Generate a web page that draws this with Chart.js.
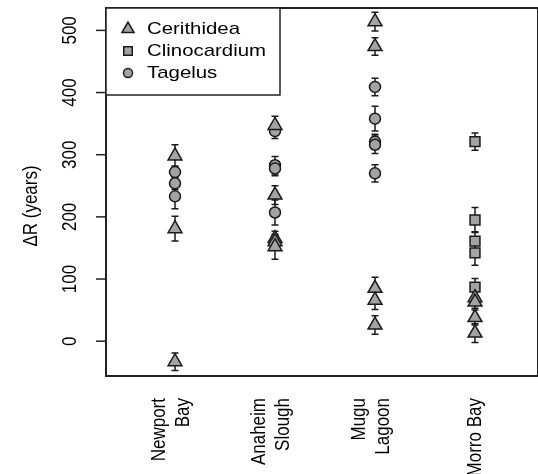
<!DOCTYPE html>
<html>
<head>
<meta charset="utf-8">
<script src="https://cdn.jsdelivr.net/npm/chart.js@4"></script>
<style>
  html, body { margin: 0; padding: 0; background: #fff; }
  #wrap { width: 538px; height: 474px; }
</style>
</head>
<body>
<div id="wrap"><canvas id="chart" width="538" height="474"></canvas></div>
<script>
    // sites along the x axis (1..4)
    const siteLabels = [['Newport', 'Bay'], ['Anaheim', 'Slough'], ['Mugu', 'Lagoon'], ['Morro Bay']];
    const yTicks = [0, 100, 200, 300, 400, 500];

    // Cerithidea
    const cerSite  = [1, 1, 1, 2, 2, 2, 2, 2, 3, 3, 3, 3, 3, 4, 4, 4, 4];
    const cerValue = [298, 181, -33, 347, 235, 165, 160, 152, 514, 474, 85, 66, 26, 70, 63, 38, 13];
    const cerError = [18, 20, 14, 15, 15, 12, 10, 20, 15, 14, 18, 15, 15, 12, 10, 12, 15];

    // Clinocardium
    const cliSite  = [4, 4, 4, 4, 4];
    const cliValue = [321, 195, 161, 142, 87];
    const cliError = [14, 20, 15, 20, 14];

    // Tagelus
    const tagSite  = [1, 1, 1, 2, 2, 2, 2, 3, 3, 3, 3, 3];
    const tagValue = [272, 254, 233, 338, 283, 278, 207, 409, 358, 321, 316, 270];
    const tagError = [10, 10, 20, 12, 14, 12, 20, 14, 20, 12, 14, 14];

    const FILL = '#a3a3a3';
    const EDGE = '#1a1a1a';
    const FONT = '"Liberation Sans", Arial, sans-serif';
    const STRETCH = 1.2;

    function points(xs, ys) {
      return xs.map((x, i) => ({ x, y: ys[i] }));
    }

    const series = [
      { label: 'Cerithidea', style: 'triangle', r: 8, legendR: 7, data: points(cerSite, cerValue), err: cerError },
      { label: 'Clinocardium', style: 'rect', r: 7, legendR: 6, data: points(cliSite, cliValue), err: cliError },
      { label: 'Tagelus', style: 'circle', r: 5.5, legendR: 4.5, data: points(tagSite, tagValue), err: tagError }
    ];

    // error bars, frame, ticks, labels and legend
    const decorations = {
      id: 'decorations',
      beforeDatasetsDraw(chart) {
        const ctx = chart.ctx;
        const xs = chart.scales.x, ys = chart.scales.y;
        ctx.save();
        ctx.strokeStyle = EDGE;
        ctx.lineWidth = 1.5;
        series.forEach(s => {
          s.data.forEach((p, i) => {
            const px = xs.getPixelForValue(p.x);
            const top = ys.getPixelForValue(p.y + s.err[i]);
            const bot = ys.getPixelForValue(p.y - s.err[i]);
            ctx.beginPath();
            ctx.moveTo(px, top); ctx.lineTo(px, bot);
            ctx.moveTo(px - 3.5, top); ctx.lineTo(px + 3.5, top);
            ctx.moveTo(px - 3.5, bot); ctx.lineTo(px + 3.5, bot);
            ctx.stroke();
          });
        });
        ctx.restore();
      },
      afterDraw(chart) {
        const ctx = chart.ctx;
        const a = chart.chartArea;
        const xs = chart.scales.x, ys = chart.scales.y;
        ctx.save();

        // plot frame (right edge falls just off the canvas)
        ctx.strokeStyle = '#222';
        ctx.lineWidth = 2;
        ctx.strokeRect(a.left, a.top, a.right - a.left, a.bottom - a.top);

        // y ticks + rotated labels
        ctx.fillStyle = '#000';
        ctx.font = '17px ' + FONT;
        ctx.lineWidth = 1.5;
        yTicks.forEach(v => {
          const py = ys.getPixelForValue(v);
          ctx.beginPath();
          ctx.moveTo(a.left - 10, py); ctx.lineTo(a.left, py);
          ctx.stroke();
          ctx.save();
          ctx.translate(70, py);
          ctx.scale(STRETCH, 1);
          ctx.rotate(-Math.PI / 2);
          ctx.textAlign = 'center';
          ctx.textBaseline = 'middle';
          ctx.fillText(String(v), 0, 0);
          ctx.restore();
        });

        // y title
        ctx.save();
        ctx.translate(31, 206);
        ctx.scale(STRETCH, 1);
        ctx.rotate(-Math.PI / 2);
        ctx.textAlign = 'center';
        ctx.textBaseline = 'middle';
        ctx.fillText('\u0394R (years)', 0, 0);
        ctx.restore();

        // x category labels, vertical
        siteLabels.forEach((lines, i) => {
          const cx = xs.getPixelForValue(i + 1);
          lines.forEach((txt, j) => {
            const lx = lines.length === 1 ? cx : cx - 16 + j * 24;
            ctx.save();
            ctx.translate(lx, a.bottom + 22);
            ctx.scale(STRETCH, 1);
            ctx.rotate(-Math.PI / 2);
            ctx.textAlign = 'right';
            ctx.textBaseline = 'middle';
            ctx.fillText(txt, 0, 0);
            ctx.restore();
          });
        });

        // legend box in the top-left corner
        const lw = 174, lh = 87;
        ctx.fillStyle = '#fff';
        ctx.fillRect(a.left, a.top, lw, lh);
        ctx.strokeStyle = '#222';
        ctx.lineWidth = 1.5;
        ctx.strokeRect(a.left, a.top, lw, lh);
        series.forEach((s, k) => {
          const ry = a.top + 21 + k * 22;
          ctx.fillStyle = FILL;
          ctx.strokeStyle = EDGE;
          ctx.lineWidth = 1.5;
          Chart.helpers.drawPoint(ctx, { pointStyle: s.style, radius: s.legendR, borderWidth: 1.5, rotation: 0 }, a.left + 22, ry);
          ctx.save();
          ctx.translate(a.left + 41, ry);
          ctx.scale(STRETCH, 1);
          ctx.fillStyle = '#000';
          ctx.textAlign = 'left';
          ctx.textBaseline = 'middle';
          ctx.fillText(s.label, 0, 0);
          ctx.restore();
        });
        ctx.restore();
      }
    };

    new Chart(document.getElementById('chart'), {
      type: 'scatter',
      data: {
        datasets: series.map(s => ({
          label: s.label,
          data: s.data,
          pointStyle: s.style,
          pointRadius: s.r,
          pointHoverRadius: s.r,
          pointBackgroundColor: FILL,
          pointBorderColor: EDGE,
          pointBorderWidth: 1.5
        }))
      },
      options: {
        responsive: false,
        animation: false,
        layout: { autoPadding: false, padding: { left: 106, right: 0, top: 8, bottom: 98 } },
        plugins: { legend: { display: false }, tooltip: { enabled: false } },
        scales: {
          x: { type: 'linear', display: false, min: 0.31, max: 4.63 },
          y: { type: 'linear', display: false, min: -56, max: 536 }
        }
      },
      plugins: [decorations]
    });
</script>
</body>
</html>
